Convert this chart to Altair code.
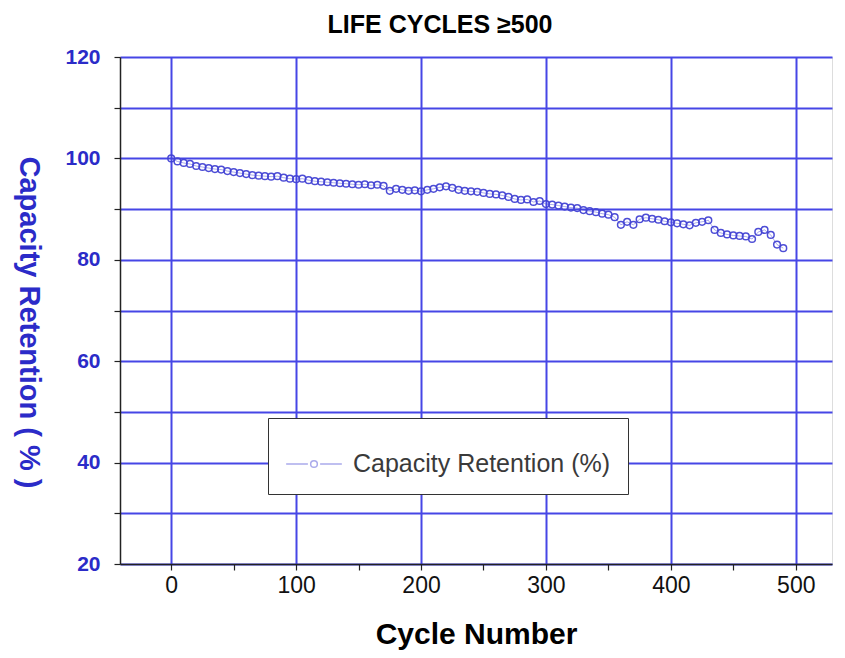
import altair as alt
import pandas as pd

cycles = [0, 5, 10, 15, 20, 25, 30, 35, 40, 45, 50, 55, 60, 65, 70, 75, 80, 85, 90, 95,
          100, 105, 110, 115, 120, 125, 130, 135, 140, 145, 150, 155, 160, 165, 170, 175, 180, 185, 190, 195,
          200, 205, 210, 215, 220, 225, 230, 235, 240, 245, 250, 255, 260, 265, 270, 275, 280, 285, 290, 295,
          300, 305, 310, 315, 320, 325, 330, 335, 340, 345, 350, 355, 360, 365, 370, 375, 380, 385, 390, 395,
          400, 405, 410, 415, 420, 425, 430, 435, 440, 445, 450, 455, 460, 465, 470, 475, 480, 485, 490]
retention = [100.0, 99.4, 99.1, 98.9, 98.5, 98.3, 98.1, 97.9, 97.8, 97.5, 97.3, 97.1, 96.9, 96.7, 96.6, 96.5, 96.4, 96.5, 96.2, 96.0,
             95.9, 96.0, 95.7, 95.5, 95.4, 95.3, 95.2, 95.1, 95.0, 94.9, 94.8, 94.9, 94.7, 94.8, 94.6, 93.6, 94.0, 93.8, 93.6, 93.7,
             93.5, 93.8, 94.0, 94.3, 94.5, 94.2, 93.8, 93.6, 93.5, 93.4, 93.2, 93.0, 92.9, 92.7, 92.4, 92.0, 91.8, 91.9, 91.4, 91.6,
             91.0, 90.9, 90.7, 90.5, 90.3, 90.2, 89.8, 89.6, 89.4, 89.1, 88.9, 88.4, 86.9, 87.5, 86.9, 88.0, 88.3, 88.1, 87.9, 87.6,
             87.4, 87.2, 87.0, 86.8, 87.3, 87.5, 87.8, 85.9, 85.3, 85.0, 84.8, 84.7, 84.6, 84.1, 85.5, 85.9, 84.9, 83.0, 82.3]
series_name = "Capacity Retention (%)"
chart_title = ["LIFE CYCLES ≥500"]

x_ticks = [0, 50, 100, 150, 200, 250, 300, 350, 400, 450, 500]
y_ticks = [20, 30, 40, 50, 60, 70, 80, 90, 100, 110, 120]

df = pd.DataFrame({"cycle": cycles, "retention": retention, "series": [series_name] * len(cycles)})
title_df = pd.DataFrame({"title": chart_title})

FONT = "Liberation Sans"
BLUE = "#2b2bc8"
GRID = "#4646e6"
MARK = "#4444d4"

legend_symbol = ("M-1,0L-0.22,0M0.22,0L1,0"
                 "M0.12,0A0.12,0.12,0,1,1,-0.12,0A0.12,0.12,0,1,1,0.12,0")

x_enc = alt.X(
    "cycle:Q",
    scale=alt.Scale(domain=[-41, 529], nice=False, zero=False),
    axis=alt.Axis(
        values=x_ticks,
        labelExpr="datum.value % 100 == 0 ? datum.label : ''",
        title="Cycle Number",
        titleFont=FONT, titleFontSize=30, titleFontWeight="bold", titleColor="black",
        titleY=79, titleBaseline="alphabetic",
        labelFont=FONT, labelFontSize=23, labelColor="#111", labelPadding=4,
        domainColor="#222", domainWidth=1.5, tickColor="#222", tickSize=6, tickWidth=1.2,
        grid=True, gridColor=GRID, gridWidth=2,
        gridOpacity={"condition": {"test": "datum.value % 100 == 0", "value": 1}, "value": 0},
    ),
)
y_enc = alt.Y(
    "retention:Q",
    scale=alt.Scale(domain=[20, 120], nice=False, zero=False),
    axis=alt.Axis(
        values=y_ticks,
        labelExpr="datum.value % 20 == 0 ? datum.label : ''",
        title="Capacity Retention ( % )",
        titleFont=FONT, titleFontSize=29, titleFontWeight="bold", titleColor=BLUE,
        titleAngle=90, titleX=-92, titleY=265, titleAlign="center", titleBaseline="middle",
        labelFont=FONT, labelFontSize=21, labelFontWeight="bold", labelColor=BLUE, labelPadding=14,
        domainColor="#222", domainWidth=1.5, tickColor="#222", tickSize=6, tickWidth=1.2,
        grid=True, gridColor=GRID, gridWidth=2,
    ),
)
color_enc = alt.Color(
    "series:N",
    scale=alt.Scale(range=[MARK]),
    legend=alt.Legend(
        orient="none", legendX=148, legendY=361, title=None,
        fillColor="white", strokeColor="#333", padding=17,
        symbolType=legend_symbol, symbolSize=3100, symbolStrokeColor="#6a6ae0",
        symbolFillColor="white", symbolStrokeWidth=1.5,
        labelFont=FONT, labelFontSize=25, labelColor="#3a3a3a", labelOffset=10,
        labelLimit=400,
    ),
)

line = alt.Chart(df).mark_line(strokeWidth=1, opacity=0.45).encode(x=x_enc, y=y_enc, color=color_enc)
points = alt.Chart(df).mark_point(filled=False, size=45, strokeWidth=1.5, opacity=0.95).encode(
    x=x_enc, y=y_enc, color=color_enc
)
title_text = alt.Chart(title_df).mark_text(
    font=FONT, fontSize=25, fontWeight="bold", color="black",
    align="center", baseline="alphabetic",
).encode(text="title:N", x=alt.value(320), y=alt.value(-24))

chart = (
    alt.layer(line, points, title_text)
    .properties(
        width=712,
        height=507,
        autosize=alt.AutoSizeParams(type="none"),
        padding={"left": 112, "top": 49, "right": 4, "bottom": 86},
    )
    .configure_view(stroke="#333", strokeWidth=1.5)
    .configure(background="white")
)

chart.save("out.html", embed_options={"renderer": "svg", "actions": False})
